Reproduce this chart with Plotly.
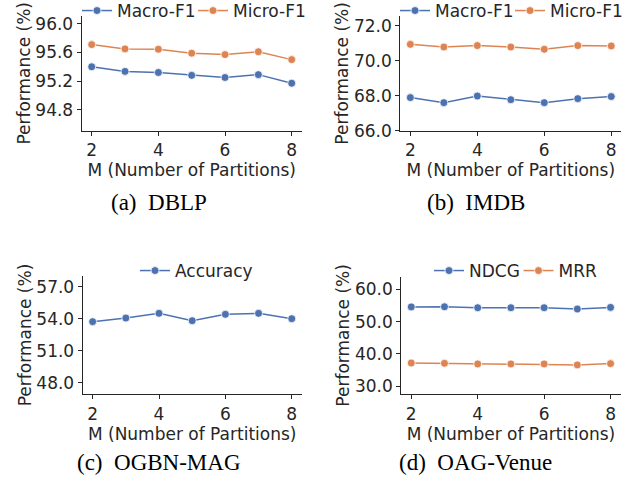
import plotly.graph_objects as go

# ---------------- data ----------------
partitions = [2, 3, 4, 5, 6, 7, 8]

dblp_macro = [95.40, 95.335, 95.32, 95.28, 95.25, 95.29, 95.17]
dblp_micro = [95.71, 95.65, 95.645, 95.59, 95.57, 95.61, 95.50]

imdb_macro = [67.89, 67.60, 67.98, 67.77, 67.60, 67.83, 67.95]
imdb_micro = [70.93, 70.78, 70.86, 70.78, 70.65, 70.86, 70.84]

mag_acc = [53.72, 54.06, 54.50, 53.81, 54.41, 54.50, 54.00]

oag_ndcg = [54.55, 54.60, 54.30, 54.30, 54.30, 53.90, 54.40]
oag_mrr = [37.20, 37.10, 36.90, 36.90, 36.90, 36.60, 37.00]

xticks = [2, 4, 6, 8]
yticks_a = [94.8, 95.2, 95.6, 96.0]
yticks_b = [66.0, 68.0, 70.0, 72.0]
yticks_c = [48.0, 51.0, 54.0, 57.0]
yticks_d = [30.0, 40.0, 50.0, 60.0]

captions = ["(a)\u00a0\u00a0DBLP", "(b)\u00a0\u00a0IMDB", "(c)\u00a0\u00a0OGBN-MAG", "(d)\u00a0\u00a0OAG-Venue"]

# ---------------- style ----------------
W, H = 634, 482
BLUE = "#4C72B0"
ORANGE = "#DD8452"
INK = "#262626"
FONT = "DejaVu Sans"
FS = 17

def px_x(a, b):
    return [a / W, b / W]

def px_y(top, bottom):
    return [1 - bottom / H, 1 - top / H]

panels = [
    dict(xd=px_x(81.7, 301.7), yd=px_y(16, 130.7), yr=[94.506, 96.11], yt=yticks_a,
         series=[("Macro-F1", dblp_macro, BLUE), ("Micro-F1", dblp_micro, ORANGE)]),
    dict(xd=px_x(400.3, 621.3), yd=px_y(16, 130.7), yr=[66.0, 72.55], yt=yticks_b,
         series=[("Macro-F1", imdb_macro, BLUE), ("Micro-F1", imdb_micro, ORANGE)]),
    dict(xd=px_x(82.7, 301.7), yd=px_y(276, 394), yr=[46.94, 58.0], yt=yticks_c,
         series=[("Accuracy", mag_acc, BLUE)]),
    dict(xd=px_x(401.3, 620.5), yd=px_y(276.7, 394), yr=[27.6, 63.9], yt=yticks_d,
         series=[("NDCG", oag_ndcg, BLUE), ("MRR", oag_mrr, ORANGE)]),
]
# legend placement: (left px, centre y px, entry spacing px)
legend_pos = [(77, 11, 116), (395, 11, 115), (135, 271, 100), (429, 271, 89.5)]

fig = go.Figure()
layout = dict(
    width=W, height=H,
    margin=dict(l=0, r=0, t=0, b=0, autoexpand=False),
    paper_bgcolor="white", plot_bgcolor="white",
    font=dict(family=FONT, size=FS, color=INK),
    showlegend=True,
    annotations=[],
)

cap_pos = [(158.5, 202), (475.5, 202), (158.5, 462), (475.5, 462)]

for i, p in enumerate(panels):
    n = i + 1
    xa = "x" if n == 1 else f"x{n}"
    ya = "y" if n == 1 else f"y{n}"
    lg = "legend" if n == 1 else f"legend{n}"
    lx, ly, lsp = legend_pos[i]
    nser = len(p["series"])
    for k, (name, vals, col) in enumerate(p["series"]):
        extra = {"legendwidth": lsp - 45} if k < nser - 1 else {}
        fig.add_trace(go.Scatter(
            x=partitions, y=vals, name=name, mode="lines+markers",
            xaxis=xa, yaxis=ya, legend=lg,
            line=dict(color=col, width=1.5),
            marker=dict(color=col, size=8, line=dict(color="white", width=0.8)),
            **extra,
        ))
    axis_common = dict(showline=True, linecolor=INK, linewidth=1.25, ticks="outside",
                       ticklen=4, tickwidth=1.25, tickcolor=INK, showgrid=False,
                       zeroline=False, automargin=False,
                       tickfont=dict(family=FONT, size=FS, color=INK))
    layout["xaxis" if n == 1 else f"xaxis{n}"] = dict(
        domain=p["xd"], range=[1.7, 8.3], tickvals=xticks, anchor=ya,
        title=dict(text="M (Number of Partitions)", standoff=1,
                   font=dict(family=FONT, size=FS, color=INK)),
        **axis_common)
    layout["yaxis" if n == 1 else f"yaxis{n}"] = dict(
        domain=p["yd"], range=p["yr"], tickvals=p["yt"], tickformat=".1f", anchor=xa,
        title=dict(text="Performance (%)", standoff=0,
                   font=dict(family=FONT, size=FS, color=INK)),
        **axis_common)
    layout[lg] = dict(orientation="h", x=lx / W, xanchor="left",
                      y=1 - ly / H, yanchor="middle",
                      bgcolor="rgba(0,0,0,0)", borderwidth=0,
                      font=dict(family=FONT, size=FS, color=INK),
                      itemwidth=30)
    cx, cy = cap_pos[i]
    layout["annotations"].append(dict(
        text=captions[i], x=cx / W, y=1 - cy / H, xref="paper", yref="paper",
        xanchor="center", yanchor="middle", showarrow=False,
        font=dict(family="Liberation Serif", size=23, color="black")))

fig.update_layout(**layout)
fig.write_html("out.html", config={"displayModeBar": False},
               post_script="document.body.style.margin='0';")
